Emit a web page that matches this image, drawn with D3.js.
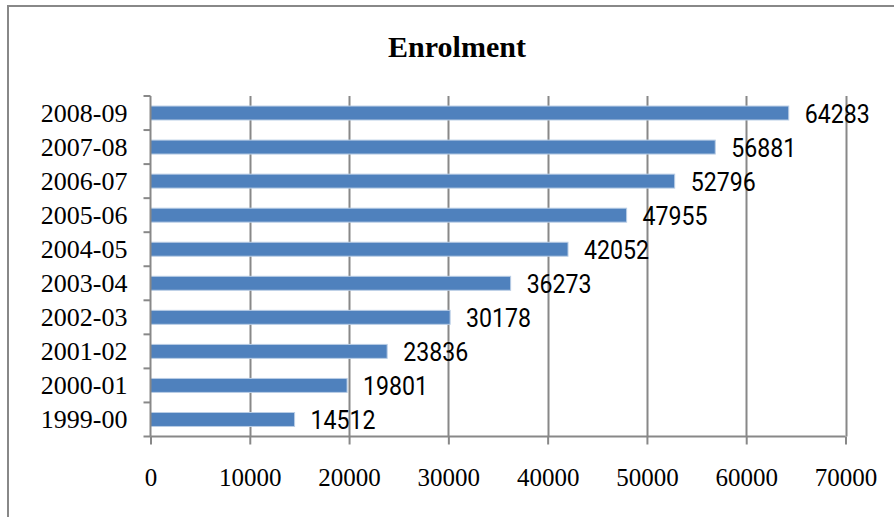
<!DOCTYPE html>
<html><head><meta charset="utf-8">
<script src="https://cdn.jsdelivr.net/npm/d3@7"></script>
<style>body{margin:0;background:#fff}svg{display:block}</style>
</head><body>
<script>
const categories = ["2008-09","2007-08","2006-07","2005-06","2004-05","2003-04","2002-03","2001-02","2000-01","1999-00"];
const values = [64283,56881,52796,47955,42052,36273,30178,23836,19801,14512];
const xTicks = [0,10000,20000,30000,40000,50000,60000,70000];
const title = "Enrolment";

(function(){
const W = 894, H = 517;
const svg = d3.select("body").append("svg").attr("width", W).attr("height", H);
svg.append("rect").attr("width", W).attr("height", H).attr("fill", "#fff");
svg.append("rect").attr("x", 8).attr("y", 6).attr("width", 900).attr("height", 530)
  .attr("fill", "none").attr("stroke", "#888").attr("stroke-width", 2);

const pL = 150.5, pR = 845.5, pT = 96, pB = 436.5;
const x = d3.scaleLinear().domain([0, 70000]).range([pL, pR]);
const y = d3.scaleBand().domain(categories).range([pT, pB]).paddingInner(0.59).paddingOuter(0.295);
const yb = d3.scaleBand().domain(categories).range([pT, pB]);

const serif = "'Liberation Serif','Times New Roman',serif";

svg.append("text").attr("x", 457).attr("y", 57).attr("text-anchor", "middle")
  .attr("font-family", serif).attr("font-weight", "bold").attr("font-size", 30).text(title);

// gridlines
svg.append("g").selectAll("line").data(xTicks.slice(1)).join("line")
  .attr("x1", d => Math.round(x(d)) + 0.5).attr("x2", d => Math.round(x(d)) + 0.5)
  .attr("y1", pT).attr("y2", pB)
  .attr("stroke", "#888").attr("stroke-width", 2);

// bars
svg.append("g").selectAll("rect").data(values).join("rect")
  .attr("x", x(0)).attr("y", (d, i) => y(categories[i]))
  .attr("width", d => x(d) - x(0)).attr("height", y.bandwidth())
  .attr("fill", "#4F81BD").attr("stroke", "#B9CDE5").attr("stroke-width", 1);

// x axis
const xAxis = d3.axisBottom(x).tickValues(xTicks).tickSize(8).tickFormat(d3.format("d"));
const gx = svg.append("g").attr("transform", `translate(0,${pB})`).call(xAxis);
gx.select(".domain").attr("stroke", "#888").attr("stroke-width", 2).attr("d", `M${pL},0H${pR}`);
gx.selectAll(".tick line").attr("stroke", "#888").attr("stroke-width", 2);
gx.selectAll(".tick text").attr("font-family", serif).attr("font-size", 25).attr("fill", "#000")
  .attr("y", 0).attr("dy", 0).attr("transform", "translate(0,49)");

// y axis
const yAxis = d3.axisLeft(yb).tickSize(0).tickPadding(23);
const gy = svg.append("g").attr("transform", `translate(${pL},0)`).call(yAxis);
gy.select(".domain").attr("stroke", "#888").attr("stroke-width", 2).attr("d", `M0,${pT}V${pB}`);
gy.selectAll(".tick text").attr("font-family", serif).attr("font-size", 26).attr("fill", "#000")
  .attr("dy", 0).attr("y", 9);
// category boundary ticks
svg.append("g").selectAll("line").data(categories.concat(["_end"])).join("line")
  .attr("x1", pL - 7).attr("x2", pL)
  .attr("y1", (d, i) => i < categories.length ? yb(d) : pB)
  .attr("y2", (d, i) => i < categories.length ? yb(d) : pB)
  .attr("stroke", "#888").attr("stroke-width", 2);

// value labels
svg.append("g").selectAll("text").data(values).join("text")
  .attr("x", d => x(d) + 16).attr("y", (d, i) => y(categories[i]) + y.bandwidth() / 2 + 10)
  .attr("font-family", "Roboto, 'Liberation Sans', sans-serif").attr("font-size", 25).attr("fill", "#000")
  .attr("textLength", 65).attr("lengthAdjust", "spacingAndGlyphs")
  .text(d => d);
})();
</script>
</body></html>
